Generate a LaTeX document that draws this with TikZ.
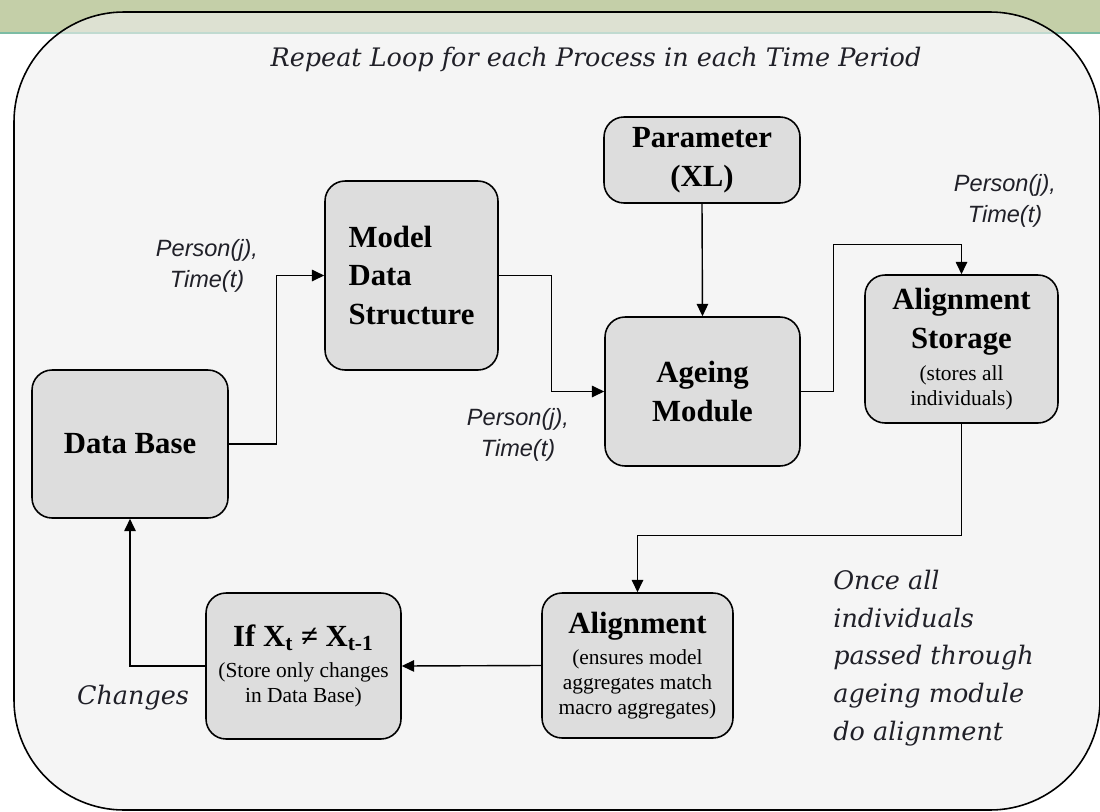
\documentclass[tikz,border=0pt]{standalone}
\usepackage{fontspec}
\setmainfont{Liberation Serif}
\newfontfamily\tagfont{Liberation Sans}
\newfontfamily\notefont{DejaVu Serif}
\usetikzlibrary{arrows.meta}
\definecolor{boxgray}{HTML}{DDDDDD}
\definecolor{bandgreen}{HTML}{C4CFA8}
\definecolor{bandline}{HTML}{7CBCA4}
\definecolor{loopgray}{HTML}{EEEEEE}
\definecolor{inkgray}{HTML}{202028}
\newcommand{\headsize}{\fontsize{17.5}{22}\selectfont}
\newcommand{\detail}[1]{{\fontsize{12.2}{14.2}\selectfont\mdseries #1}}
\tikzset{
    block/.style={rectangle, draw=black, line width=0.9pt, fill=boxgray,
        rounded corners=0.4cm, align=center, font=\headsize\bfseries, inner sep=2pt},
    link/.style={-{Triangle[length=7pt,width=6.5pt]}, line width=0.8pt},
    tag/.style={align=center, font=\tagfont\itshape\fontsize{13.4}{18}\selectfont, text=inkgray},
    note/.style={font=\notefont\itshape\fontsize{14.5}{21.5}\selectfont, text=inkgray}
}
\begin{document}
\begin{tikzpicture}[x=0.02cm, y=-0.02cm]
    \useasboundingbox (0,0) rectangle (1100,812);

    \fill[bandgreen] (0,0) rectangle (1100,32);
    \draw[bandline, line width=1.2pt] (0,33) -- (1100,33);
    \draw[line width=0.9pt, fill=loopgray, fill opacity=0.6, rounded corners=2.2cm]
        (14,12) rectangle (1100,810);

    \node[note] (title) at (596,59) {Repeat Loop for each Process in each Time Period};

    \node[block, minimum width=3.92cm, minimum height=1.72cm] (param)   at (702,160)   {Parameter\\(XL)};
    \node[block, minimum width=3.90cm, minimum height=2.98cm] (ageing)  at (702.5,391.5) {Ageing\\Module};
    \node[block, minimum width=3.46cm, minimum height=3.78cm, align=left] (model) at (411.5,275.5) {Model\\Data\\Structure};
    \node[block, minimum width=3.92cm, minimum height=2.96cm] (db)      at (130,444)   {Data Base};
    \node[block, minimum width=3.86cm, minimum height=2.96cm] (storage) at (961.5,349)
        {Alignment\\Storage\\[-4pt]\detail{(stores all}\\[-7.8pt]\detail{individuals)}};
    \node[block, minimum width=3.82cm, minimum height=2.90cm] (align)   at (637.5,665.5)
        {Alignment\\[-4pt]\detail{(ensures model}\\[-7.8pt]\detail{aggregates match}\\[-7.8pt]\detail{macro aggregates)}};
    \node[block, minimum width=3.90cm, minimum height=2.92cm] (ifbox)   at (303.5,666)
        {If X\textsubscript{t} ≠ X\textsubscript{t-1}\\[-4pt]\detail{(Store only changes}\\[-7.8pt]\detail{in Data Base)}};

    \draw[link] (db.east) -- ++(48,0) |- (model.west);
    \draw[link] (model.east) -- ++(53,0) |- (ageing.west);
    \draw[link] (param.south) -- (ageing.north);
    \draw[link] (ageing.east) -- ++(33,0) -- ++(0,-147) -| (storage.north);
    \draw[link] (storage.south) -- ++(0,112) -| (align.north);
    \draw[link] (align.west) -- (ifbox.east);
    \draw[link] (ifbox.west) -| (db.south);

    \node[tag] (tagdb)     at (207,266)  {Person(j),\\Time(t)};
    \node[tag] (tagmodel)  at (518,435)  {Person(j),\\Time(t)};
    \node[tag] (tagageing) at (1005,201) {Person(j),\\Time(t)};

    \node[note] (changes) at (133,698) {Changes};
    \node[note, anchor=west, align=left, inner sep=0pt] (once) at (833,658)
        {Once all\\individuals\\passed through\\ageing module\\do alignment};
\end{tikzpicture}
\end{document}
